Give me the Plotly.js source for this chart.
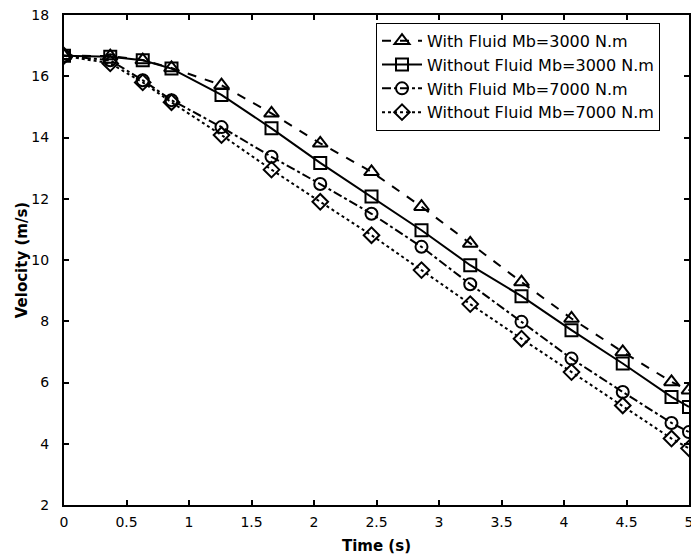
<!DOCTYPE html>
<html>
<head>
<meta charset="utf-8">
<script src="https://cdn.plot.ly/plotly-3.0.1.min.js"></script>
<style>html,body{margin:0;padding:0;background:#fff;}#chart{width:691px;height:558px;}</style>
</head>
<body>
<div id="chart"></div>
<script>
const timeS = [0, 0.37, 0.63, 0.86, 1.26, 1.66, 2.05, 2.46, 2.86, 3.25, 3.66, 4.06, 4.47, 4.86, 5.0];
const withFluid3000 = [16.67, 16.66, 16.53, 16.27, 15.71, 14.79, 13.81, 12.88, 11.74, 10.54, 9.28, 8.09, 7.00, 6.02, 5.75];
const withoutFluid3000 = [16.67, 16.64, 16.52, 16.25, 15.39, 14.30, 13.17, 12.07, 10.97, 9.83, 8.82, 7.71, 6.62, 5.53, 5.20];
const withFluid7000 = [16.67, 16.52, 15.87, 15.22, 14.34, 13.37, 12.48, 11.51, 10.43, 9.21, 7.98, 6.78, 5.69, 4.68, 4.38];
const withoutFluid7000 = [16.67, 16.42, 15.80, 15.15, 14.08, 12.95, 11.90, 10.81, 9.67, 8.56, 7.43, 6.34, 5.25, 4.17, 3.85];
const seriesNames = ["With Fluid Mb=3000 N.m", "Without Fluid Mb=3000 N.m", "With Fluid Mb=7000 N.m", "Without Fluid Mb=7000 N.m"];
const xTickVals = [0, 0.5, 1, 1.5, 2, 2.5, 3, 3.5, 4, 4.5, 5];
const yTickVals = [2, 4, 6, 8, 10, 12, 14, 16, 18];

const styles = [
  {dash: "dash", symbol: "triangle-up-open", size: 13},
  {dash: "solid", symbol: "square-open", size: 12},
  {dash: "dashdot", symbol: "circle-open", size: 12},
  {dash: "dot", symbol: "diamond-open", size: 12}
];
const ys = [withFluid3000, withoutFluid3000, withFluid7000, withoutFluid7000];

const traces = ys.map((y, i) => ({
  x: timeS, y: y, name: seriesNames[i], type: "scatter", mode: "lines+markers",
  line: {color: "#000", width: 2, dash: styles[i].dash},
  marker: {symbol: styles[i].symbol, size: styles[i].size, color: "#000", line: {color: "#000", width: 2}}
}));

const fam = "DejaVu Sans, sans-serif";
const layout = {
  width: 691, height: 558,
  margin: {l: 64, r: 2, t: 15, b: 53},
  paper_bgcolor: "#fff", plot_bgcolor: "#fff",
  font: {family: fam, color: "#000", size: 14},
  showlegend: true,
  legend: {
    x: 0.4992, y: 0.984, xanchor: "left", yanchor: "top",
    bgcolor: "#fff", bordercolor: "#000", borderwidth: 1,
    font: {family: fam, size: 16, color: "#000"},
    itemwidth: 40, tracegroupgap: 0
  },
  xaxis: {
    range: [0, 5], tickvals: xTickVals, ticktext: xTickVals.map(String),
    ticks: "inside", ticklen: 5, tickwidth: 2, tickcolor: "#000",
    showline: true, linewidth: 2, linecolor: "#000", mirror: "ticks",
    showgrid: false, zeroline: false, ticklabeloverflow: "allow",
    ticklabelstandoff: 3,
    tickfont: {size: 14},
    title: {text: "<b>Time (s)</b>", font: {size: 15}, standoff: 12}
  },
  yaxis: {
    range: [2, 18], tickvals: yTickVals, ticktext: yTickVals.map(String),
    ticks: "inside", ticklen: 5, tickwidth: 2, tickcolor: "#000",
    showline: true, linewidth: 2, linecolor: "#000", mirror: "ticks",
    showgrid: false, zeroline: false,
    ticklabelstandoff: 10,
    tickfont: {size: 14},
    title: {text: "<b>Velocity (m/s)</b>", font: {size: 15}, standoff: 0}
  }
};
Plotly.newPlot("chart", traces, layout, {displayModeBar: false, staticPlot: true});
</script>
</body>
</html>
